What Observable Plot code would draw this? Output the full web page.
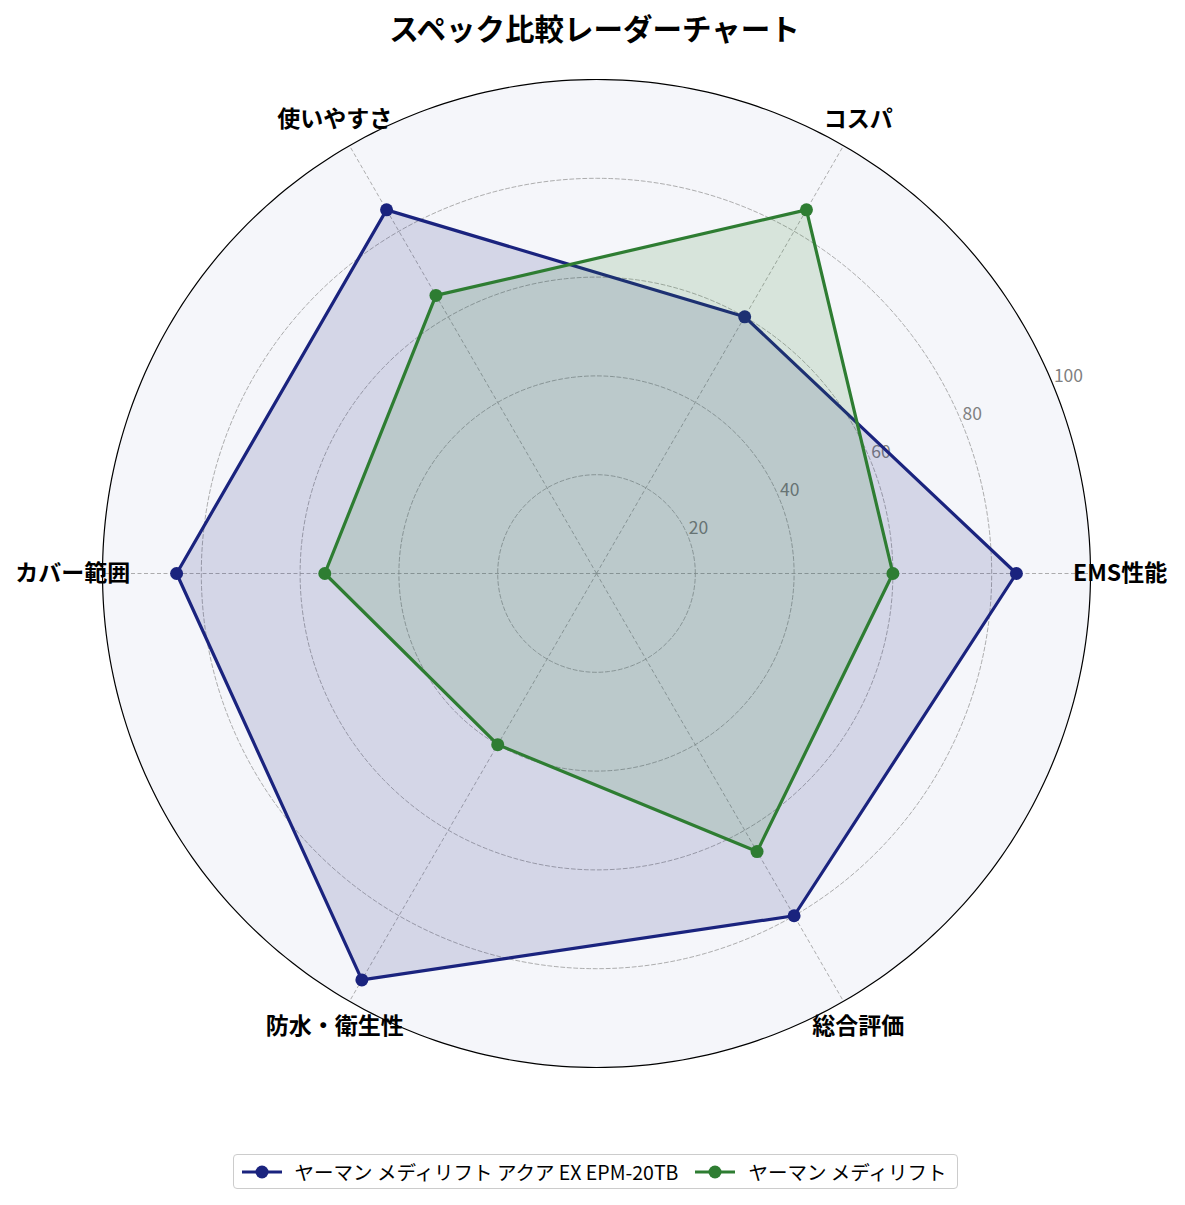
<!DOCTYPE html>
<html>
<head>
<meta charset="utf-8">
<script src="https://cdn.jsdelivr.net/npm/d3@7"></script>
<script src="https://cdn.jsdelivr.net/npm/@observablehq/plot@0.6"></script>
<style>
  html, body { margin: 0; padding: 0; background: #fff; }
  body { width: 1185px; height: 1205px; font-family: "Noto Sans CJK JP", "Noto Sans", sans-serif; }
  #title { height: 55px; line-height: 55px; text-align: center; font-size: 29.5px; font-weight: bold; color: #000; padding-left: 4px; }
  #chart svg { display: block; }
  #legend { display: flex; justify-content: center; margin-top: 27px; padding-left: 6px; }
  .box { display: flex; align-items: center; border: 1.5px solid #ccc; border-radius: 4px; padding: 2px 11px 2px 7px; background: #fff; }
  .item { display: flex; align-items: center; font-size: 19.5px; color: #000; margin-right: 16px; }
  .item:last-child { margin-right: 0; }
  .item svg { margin-right: 12px; }
</style>
</head>
<body>
<div id="title">スペック比較レーダーチャート</div>
<div id="chart"></div>
<div id="legend"><div class="box" id="legendBox"></div></div>
<script>
// ---- data ----
const categories = ["EMS性能", "コスパ", "使いやすさ", "カバー範囲", "防水・衛生性", "総合評価"];
const seriesNames = ["ヤーマン メディリフト アクア EX EPM-20TB", "ヤーマン メディリフト"];
const seriesAValues = [85, 60, 85, 85, 95, 80];
const seriesBValues = [60, 85, 65, 55, 40, 65];
const seriesColors = ["#1a237e", "#2e7d32"];
const gridLevels = [20, 40, 60, 80];
const tickValues = [20, 40, 60, 80, 100];
const tickLabels = ["20", "40", "60", "80", "100"];
const maxValue = 100;

// ---- derived ----
const angleOf = i => (i * 2 * Math.PI) / categories.length;
const polar = (v, a) => ({x: v * Math.cos(a), y: v * Math.sin(a)});
const seriesValues = [seriesAValues, seriesBValues];
const points = seriesValues.map((vals, s) =>
  vals.map((v, i) => ({series: seriesNames[s], category: categories[i], value: v, ...polar(v, angleOf(i))}))
);
const circlePts = r => d3.range(0, 361, 1).map(deg => ({level: r, ...polar(r, deg * Math.PI / 180)}));
const gridPts = gridLevels.flatMap(circlePts);
const outerPts = circlePts(maxValue);
const spokes = categories.map((c, i) => ({category: c, ...polar(maxValue, angleOf(i))}));
const labelAngle = 22.5 * Math.PI / 180;
const ticks = tickValues.map((v, i) => ({label: tickLabels[i], ...polar(v, labelAngle)}));
const catLabels = categories.map((c, i) => ({label: c, ...polar(maxValue * 1.06, angleOf(i))}));

const seriesMarks = points.flatMap((pts, s) => [
  Plot.line(pts, {x: "x", y: "y", curve: "linear-closed", fill: seriesColors[s], fillOpacity: 0.15, stroke: "none"}),
  Plot.line(pts, {x: "x", y: "y", curve: "linear-closed", stroke: seriesColors[s], strokeWidth: 3.2, fill: "none"}),
  Plot.dot(pts, {x: "x", y: "y", r: 6.5, fill: seriesColors[s], stroke: "none"})
]);

const chart = Plot.plot({
  width: 1185,
  height: 1072,
  marginLeft: 102,
  marginRight: 95,
  marginTop: 24,
  marginBottom: 60,
  x: {domain: [-maxValue, maxValue], axis: null},
  y: {domain: [-maxValue, maxValue], axis: null},
  style: {fontFamily: '"Noto Sans CJK JP", "Noto Sans", sans-serif', background: "white", overflow: "visible"},
  marks: [
    Plot.line(outerPts, {x: "x", y: "y", curve: "linear-closed", fill: "#f5f6fa", stroke: "none"}),
    Plot.line(gridPts, {x: "x", y: "y", z: "level", curve: "linear-closed", stroke: "#999", strokeWidth: 0.8, strokeDasharray: "4,2.5", fill: "none"}),
    Plot.link(spokes, {x1: 0, y1: 0, x2: "x", y2: "y", stroke: "#999", strokeWidth: 0.8, strokeDasharray: "4,2.5"}),
    Plot.text(ticks, {x: "x", y: "y", text: "label", textAnchor: "start", lineAnchor: "bottom", dx: 1, dy: -2, fill: "#808080", fontSize: 17.5}),
    ...seriesMarks,
    Plot.line(outerPts, {x: "x", y: "y", curve: "linear-closed", fill: "none", stroke: "#000", strokeWidth: 1.2}),
    Plot.text(catLabels, {x: "x", y: "y", text: "label", fontSize: 23, fontWeight: "bold", fill: "#000", textAnchor: "middle", lineAnchor: "middle"})
  ]
});
document.getElementById("chart").appendChild(chart);

// ---- legend ----
const box = document.getElementById("legendBox");
seriesNames.forEach((name, s) => {
  const item = document.createElement("div");
  item.className = "item";
  const ns = "http://www.w3.org/2000/svg";
  const sw = document.createElementNS(ns, "svg");
  sw.setAttribute("width", 42); sw.setAttribute("height", 20);
  const ln = document.createElementNS(ns, "line");
  ln.setAttribute("x1", 1); ln.setAttribute("x2", 41); ln.setAttribute("y1", 10); ln.setAttribute("y2", 10);
  ln.setAttribute("stroke", seriesColors[s]); ln.setAttribute("stroke-width", 3.2);
  const c = document.createElementNS(ns, "circle");
  c.setAttribute("cx", 21); c.setAttribute("cy", 10); c.setAttribute("r", 6.5); c.setAttribute("fill", seriesColors[s]);
  sw.appendChild(ln); sw.appendChild(c);
  const t = document.createElement("span");
  t.textContent = name;
  item.appendChild(sw); item.appendChild(t);
  box.appendChild(item);
});
</script>
</body>
</html>
